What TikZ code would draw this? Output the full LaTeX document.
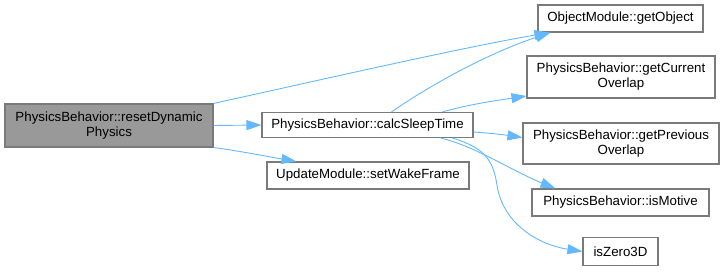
\documentclass[tikz,border=0pt]{standalone}
\usepackage{fontspec}
\setmainfont{Liberation Sans}
\usetikzlibrary{arrows.meta,calc}
\definecolor{edgeblue}{HTML}{63B8FF}
\definecolor{boxline}{HTML}{7A7A7A}
\definecolor{focusfill}{HTML}{999999}
\begin{document}
\begin{tikzpicture}[x=1pt,y=-1pt,
  fn/.style={draw=boxline,line width=1.1pt,fill=white,inner sep=0pt,
    font=\fontsize{13.3}{15}\selectfont,align=center},
  focus/.style={fn,fill=focusfill},
  call/.style={draw=edgeblue,line width=0.9pt,
    -{Triangle[length=15pt,width=10pt]}}]
\useasboundingbox (0,0) rectangle (725,272);

% caller and its direct callees
\node[focus,minimum width=208pt,minimum height=43pt] (A) at (109,125.5)
  {PhysicsBehavior::resetDynamic\\Physics};
\node[fn,minimum width=211pt,minimum height=25pt] (calc) at (367.5,125)
  {PhysicsBehavior::calcSleepTime};
\node[fn,minimum width=202pt,minimum height=27pt] (wake) at (368,175.5)
  {UpdateModule::setWakeFrame};

% second level
\node[fn,minimum width=165pt,minimum height=27pt] (obj) at (620.5,18.5)
  {ObjectModule::getObject};
\node[fn,minimum width=188pt,minimum height=42pt] (cur) at (621,77)
  {PhysicsBehavior::getCurrent\\Overlap};
\node[fn,minimum width=196pt,minimum height=41pt] (prev) at (621,143.5)
  {PhysicsBehavior::getPrevious\\Overlap};
\node[fn,minimum width=177pt,minimum height=27pt] (mot) at (620.5,202.5)
  {PhysicsBehavior::isMotive};
\node[fn,minimum width=75pt,minimum height=28pt] (zero) at (620.5,251.5)
  {isZero3D};

% calls from resetDynamicPhysics
\draw[call] (A.north east) .. controls (320,80) and (460,48) .. ($(obj.south west)+(12,0)$);
\draw[call] (A.east) -- (calc.west);
\draw[call] (A.south east) .. controls (240,151) and (270,157) .. ($(wake.north west)+(30,0)$);

% calls from calcSleepTime
\draw[call] ($(calc.north west)+(130,0)$) .. controls (420,92) and (480,56) .. ($(obj.south west)+(13,0)$);
\draw[call] ($(calc.north east)+(-31,0)$) .. controls (470,104) and (500,100) .. ($(cur.west)+(0,19)$);
\draw[call] ($(calc.east)+(0,7)$) .. controls (490,133) and (505,135) .. ($(prev.west)+(0,-6)$);
\draw[call] ($(calc.south east)+(-33,0)$) .. controls (475,146) and (510,170) .. ($(mot.north west)+(24,0)$);
\draw[call] ($(calc.south east)+(-21,0)$) .. controls (485,148) and (493,160) .. (497,185)
  .. controls (503,225) and (540,245) .. (zero.west);
\end{tikzpicture}
\end{document}
